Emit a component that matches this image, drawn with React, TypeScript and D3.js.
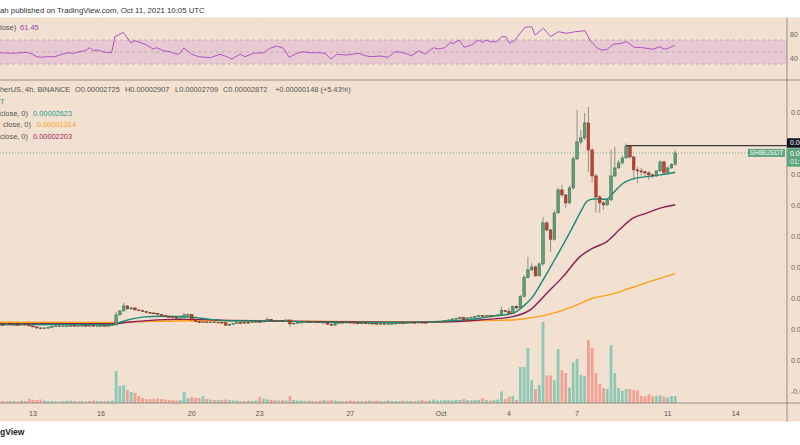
import React from "react";
import * as d3 from "d3";

const width = 800;
const height = 445;
const plotRight = 787;
const bandTop = 17.5;
const bandBottom = 421.5;
const rsiBottom = 80;
const axisY = 403;
const font = "Liberation Sans, Arial, sans-serif";

// SHIB/USDT 4h candles starting Sep 11 12:00 UTC, prices in millionths of USDT
const firstOpen = 6.62;
const closes = [
  6.59, 6.53, 6.66, 6.53, 6.59, 6.53, 6.66, 6.53, 6.4, 6.27, 6.14, 6.08, 6.14, 6.21, 6.34, 6.4, 6.34, 6.4, 6.4, 6.46,
  6.4, 6.4, 6.46, 6.4, 6.46, 6.4, 6.4, 6.46, 6.4, 6.46, 6.53,
  7.82, 8.33, 8.98, 8.59, 8.72, 8.46, 8.4, 8.27, 8.14, 8.07, 8.01, 7.88, 7.75, 7.62, 7.56, 7.49, 7.39, 7.43, 7.82, 7.88,
  7.17, 6.95, 6.82, 6.91, 6.85, 6.91, 6.82, 6.87, 6.82, 6.49, 6.62, 6.72, 6.82, 6.78, 6.85, 6.82, 6.91, 6.95, 6.91, 7.04,
  7.24, 7.11, 7.08, 7.13, 7.08, 7.17, 6.66, 6.75, 6.85, 6.87,
  6.95, 6.91, 6.95, 6.91, 6.87, 6.87, 6.62, 6.49, 6.72, 6.87, 6.82, 6.87, 6.85, 6.78, 6.75, 6.78, 6.72, 6.75, 6.68, 6.66,
  6.72, 6.62, 6.68, 6.72, 6.75, 6.78, 6.75, 6.82, 6.85, 6.82,
  6.87, 6.85, 6.82, 6.91, 6.95, 6.97, 7.0, 7.07, 7.17, 7.3, 7.37, 7.52, 7.17, 7.43, 7.52, 7.62, 7.73, 7.66, 7.75, 7.62,
  7.71, 7.82,
  8.37, 8.24, 8.04, 8.89, 8.72, 10.18, 12.63, 13.62, 14.01, 12.85, 14.4, 19.69, 18.78, 17.58, 20.98, 23.95, 23.3, 22.27,
  24.2, 27.95, 30.14, 30.66, 32.59, 29.11, 25.75, 23.04, 22.27, 22.01, 22.66, 25.75, 26.78, 27.43, 28.07, 29.62, 28.2,
  26.53, 26.4, 26.27, 26.14, 25.88, 25.75, 26.4, 27.56, 26.18, 26.78, 27.25, 28.72,
];
const highs = [
  6.68, 6.66, 6.72, 6.7, 6.64, 6.62, 6.72, 6.7, 6.58, 6.45, 6.3, 6.18, 6.2, 6.28, 6.4, 6.46, 6.44, 6.45, 6.47, 6.52,
  6.5, 6.46, 6.52, 6.5, 6.52, 6.5, 6.46, 6.51, 6.5, 6.52, 6.6,
  8.2, 8.45, 9.37, 9.05, 8.85, 8.75, 8.52, 8.45, 8.3, 8.2, 8.12, 8.05, 7.92, 7.8, 7.7, 7.62, 7.55, 7.52, 8.07, 7.98,
  7.92, 7.22, 7.0, 6.96, 6.94, 6.96, 6.95, 6.92, 6.9, 6.86, 6.68, 6.76, 6.86, 6.86, 6.9, 6.9, 6.95, 7.0, 6.98, 7.08,
  7.5, 7.28, 7.15, 7.16, 7.16, 7.2, 7.2, 6.8, 6.9, 6.92,
  7.0, 6.98, 7.0, 6.98, 6.95, 6.94, 6.92, 6.68, 6.78, 6.92, 6.92, 6.92, 6.92, 6.9, 6.82, 6.84, 6.82, 6.8, 6.78, 6.74,
  6.78, 6.76, 6.74, 6.78, 6.8, 6.84, 6.82, 6.88, 6.9, 6.9,
  6.92, 6.92, 6.9, 6.96, 7.0, 7.03, 7.06, 7.12, 7.24, 7.36, 7.45, 7.6, 7.56, 7.5, 7.58, 7.7, 7.82, 7.8, 7.82, 7.8,
  7.78, 7.9,
  8.89, 8.45, 8.72, 9.0, 9.1, 10.4, 12.98, 15.3, 14.5, 14.2, 14.6, 20.46, 19.9, 18.9, 21.3, 24.2, 24.59, 23.4, 24.5,
  28.3, 34.27, 31.69, 33.88, 34.66, 29.3, 26.0, 23.3, 22.5, 22.9, 29.11, 29.49, 27.8, 28.4, 29.95, 29.66, 28.3, 26.9,
  26.8, 26.5, 26.4, 26.1, 26.5, 27.8, 27.7, 26.95, 27.4, 29.07,
];
const lows = [
  6.52, 6.46, 6.48, 6.46, 6.5, 6.47, 6.48, 6.47, 6.34, 6.2, 5.98, 6.0, 6.04, 6.1, 6.18, 6.3, 6.28, 6.3, 6.35, 6.36,
  6.34, 6.34, 6.36, 6.35, 6.38, 6.35, 6.34, 6.36, 6.35, 6.38, 6.42,
  6.45, 7.76, 8.28, 8.5, 8.52, 8.4, 8.32, 8.2, 8.06, 8.0, 7.92, 7.8, 7.68, 7.55, 7.48, 7.42, 7.32, 7.34, 7.38, 7.78,
  7.1, 6.9, 6.76, 6.78, 6.8, 6.82, 6.78, 6.8, 6.76, 6.4, 6.45, 6.58, 6.68, 6.72, 6.76, 6.76, 6.8, 6.88, 6.86, 6.88,
  7.0, 7.05, 7.02, 7.05, 7.03, 7.04, 6.27, 6.6, 6.7, 6.8,
  6.84, 6.86, 6.88, 6.86, 6.82, 6.8, 6.55, 6.4, 6.44, 6.68, 6.76, 6.78, 6.8, 6.72, 6.7, 6.7, 6.66, 6.68, 6.62, 6.6,
  6.62, 6.56, 6.58, 6.64, 6.68, 6.7, 6.68, 6.72, 6.78, 6.76,
  6.78, 6.8, 6.76, 6.8, 6.86, 6.9, 6.92, 6.96, 7.02, 7.12, 7.24, 7.3, 7.08, 7.12, 7.38, 7.46, 7.56, 7.58, 7.6, 7.55,
  7.58, 7.64,
  7.75, 8.1, 7.95, 7.98, 8.6, 8.65, 10.1, 12.55, 13.5, 12.75, 12.8, 14.14, 18.6, 15.95, 17.4, 20.9, 23.0, 21.62, 22.1,
  24.0, 27.8, 29.8, 30.4, 26.27, 24.85, 20.98, 20.98, 21.37, 21.9, 22.5, 25.6, 26.7, 27.2, 27.95, 28.0, 25.24, 24.85,
  25.8, 25.7, 25.24, 25.5, 25.6, 26.3, 25.9, 26.0, 26.7, 27.09,
];
// volume, arbitrary units
const volumes = [
  2, 2, 1.5, 2, 2, 1.5, 2.5, 2, 4, 3, 3, 3.5, 2.5, 2, 2, 1.5, 1.5, 2, 2, 2.5, 2, 1.5, 2, 1.5, 2, 2.5, 2, 2, 2, 2, 2.5,
  32, 17, 18, 13, 11, 10, 7, 5, 4, 4, 4, 4.5, 4, 3.5, 3, 3, 2.5, 3, 11, 5,
  6, 5, 5, 7, 4, 3.5, 3, 3, 3, 3.5, 3, 2.5, 2.5, 2, 2, 2.5, 2, 2.5, 6, 4.5, 3.5, 3, 3, 2.5, 3, 2.5, 7, 3, 2.5, 2.5,
  2, 2.5, 2, 2, 2.5, 3, 2.5, 3, 2.5, 2, 2, 2, 2.5, 2, 2, 2, 2, 2.5, 2, 2.5, 2, 2, 2.5, 2, 2, 2, 2.5, 2, 2, 2, 2.5, 3,
  2, 2.5, 3.5, 2.5,
  2.5, 3, 3, 2.5, 3, 3, 4, 3, 2.5, 3, 3, 5, 3, 2.5, 3, 3.5,
  11.6, 4, 6, 7, 3, 36, 36, 55, 22.6, 14, 18, 81, 27.6, 27.6, 22.6, 54, 33, 30, 15.6, 40.6, 44, 28, 27, 63, 55, 30, 19,
  15, 14, 58, 30, 15, 12, 14, 14, 13, 12.5, 7, 6.5, 8.5, 6.5, 7, 7.7, 6.5, 5.5, 7, 7,
];

// moving averages: [candle index, value]
const maFast = [
  [0, 6.59], [30, 6.55], [32, 6.85], [34.7, 7.24], [38.6, 7.56], [42.6, 7.65], [47.9, 7.62], [51.9, 7.49], [55.9, 7.24],
  [61.1, 7.07], [69.1, 7.04], [77, 6.98], [87.6, 6.88], [106.1, 6.85], [116.7, 6.98], [124.7, 7.24], [127.3, 7.39],
  [131.5, 7.69], [136.1, 8.04], [138.7, 8.89], [141.3, 10.18], [144, 12.33], [146.6, 14.53], [149.3, 16.85],
  [151.9, 19.21], [153.8, 20.98], [155.6, 22.44], [157.2, 22.78], [160.9, 22.75], [162.5, 23.52], [165.2, 24.81],
  [167.8, 25.37], [171.4, 25.66], [175, 25.88], [179, 26.23],
];
const maMid = [
  [0, 6.7], [30, 6.68], [34.7, 6.91], [40, 7.11], [46.6, 7.24], [51.9, 7.24], [61.1, 7.11], [77, 7.0], [106.1, 6.88],
  [116.7, 6.91], [127.3, 7.17], [136, 7.6], [140.6, 8.46], [145, 10.62], [149.3, 12.76], [153.8, 15.34], [157.2, 16.43],
  [160.9, 17.28], [164.4, 18.9], [167.8, 20.3], [171.4, 20.94], [175, 21.59], [179, 22.03],
];
const maSlow = [
  [0, 6.88], [30, 6.85], [40, 6.98], [50.6, 7.07], [79.7, 7.0], [106.1, 6.91], [122, 7.0], [127.3, 7.08], [136, 7.17],
  [140.6, 7.43], [145, 7.82], [151.9, 8.89], [157.2, 9.97], [162.5, 10.53], [167, 11.26], [171.4, 11.98], [179, 13.14],
];
const rsi = [
  [0, 48.8], [4, 47.8], [7.3, 49.5], [8.7, 46.7], [10, 42.2], [11.3, 41.2], [12.6, 42.2], [14.8, 42.2], [17, 46.7],
  [18.3, 48.8], [19.7, 47.8], [21.4, 50.5], [22.8, 52.2], [24, 57.2], [25, 52.2], [26.3, 53.3], [27.6, 50.5],
  [28.5, 49.5], [29.8, 48.8], [30.7, 75.5], [32.9, 82.8], [34.9, 65.5], [36, 68.8], [37.3, 66.2], [39.1, 61.7],
  [40.8, 55], [41.7, 57.2], [43.5, 52.2], [45.3, 50.5], [47, 46.2], [47.9, 47.8], [48.8, 56.2], [49.7, 53.3],
  [51, 46.2], [52.8, 42.2], [55.9, 40.5], [58.5, 46.2], [60.3, 42.2], [61.6, 38.3], [63.8, 46.2], [65.1, 42.2],
  [67.3, 47.8], [70, 48.8], [71.7, 56.2], [73.5, 60], [75.3, 56.2], [76.8, 41.2], [78.8, 47.8], [80.5, 50.5],
  [82.3, 48.8], [84.1, 48.8], [86.3, 47.8], [87.9, 38.3], [89.4, 46.2], [92, 45], [95.1, 47.8], [97.3, 43.3],
  [98.6, 42.2], [100.8, 43.3], [103, 41.2], [104.8, 50.5], [106.1, 50], [107.5, 47.8], [109.2, 43.8], [111, 51.7],
  [112.8, 46.7], [115, 57.2], [116.3, 55], [118, 57.2], [119.4, 65.5], [120.3, 64.5], [121.8, 70], [123.1, 57.8],
  [125.1, 61.7], [126.9, 70], [128, 66.2], [128.9, 70], [130.1, 67.2], [131.7, 67.2], [133.1, 75.5], [134.2, 75.5],
  [135.1, 64.5], [136.6, 70], [139.2, 91.2], [141, 92.2], [141.9, 78.3], [144.1, 89.5], [146, 75.5], [148, 83.8],
  [150.3, 81.2], [152.5, 83.8], [155.1, 85.5], [156.4, 70], [158.2, 57.2], [159.5, 53.3], [161, 54.5], [162.6, 62.8],
  [164.8, 64.5], [166.1, 67.2], [168.3, 57.2], [169.7, 57.8], [173.2, 54.5], [174.9, 58.8], [176.1, 54.5],
  [177.6, 57.2], [178.9, 61.45],
];

const dateTicks = ["2021-09-13", "2021-09-16", "2021-09-20", "2021-09-23", "2021-09-27", "2021-10-01", "2021-10-04", "2021-10-07", "2021-10-11", "2021-10-14"];
const dateLabels = ["13", "16", "20", "23", "27", "Oct", "4", "7", "11", "14"];
const priceTicks = [34, 30, 26, 22, 18, 14, 10, 6, 2, -2];
const rsiTicks = [80, 40];
const rayLevel = 29.66;
const rayFrom = 166;

const green = "#5c9f78";
const greenEdge = "#2e6a49";
const red = "#c4432f";
const redEdge = "#7a281c";

const fmt = (v: number) => (v / 1e6).toFixed(8);

export default function App() {
  const start = Date.UTC(2021, 8, 11, 12);
  const step = 4 * 3600 * 1000;
  const timeAt = (i: number) => new Date(start + i * step);

  const x = d3
    .scaleUtc()
    .domain([new Date(Date.UTC(2021, 8, 13)), new Date(Date.UTC(2021, 9, 14))])
    .range([33, 735.7]);
  const y = d3.scaleLinear().domain([-2, 34]).range([391, 112]);
  const yRsi = d3.scaleLinear().domain([0, 100]).range([82, 22]);
  const yVol = d3.scaleLinear().domain([0, 100]).range([axisY, axisY - 100]);

  const candles = closes.map((c, i) => {
    const o = i ? closes[i - 1] : firstOpen;
    return { o, c, h: highs[i], l: lows[i], v: volumes[i], up: c >= o, x: x(timeAt(i)) };
  });

  const maPath = d3
    .line<number[]>()
    .x((d) => x(timeAt(d[0])))
    .y((d) => y(d[1]))
    .curve(d3.curveMonotoneX);
  const rsiPath = d3
    .line<number[]>()
    .x((d) => x(timeAt(d[0])))
    .y((d) => yRsi(d[1]));

  const last = candles[candles.length - 1];
  const yLast = y(last.c);
  const greenTop = yLast - 4.7;
  const bw = 2.6;

  return (
    <div style={{ position: "absolute", left: 0, top: 0 }}>
      <svg width={width} height={height} style={{ display: "block", background: "#fff" }} fontFamily={font}>
        <defs>
          <clipPath id="main">
            <rect x={0} y={rsiBottom} width={plotRight} height={axisY - rsiBottom} />
          </clipPath>
          <clipPath id="rsi">
            <rect x={0} y={bandTop} width={plotRight} height={rsiBottom - bandTop} />
          </clipPath>
        </defs>

        <text x={0} y={12.5} fontSize={7.8} fill="#333">
          ah published on TradingView.com, Oct 11, 2021 10:05 UTC
        </text>

        <rect x={0} y={bandTop} width={width} height={bandBottom - bandTop} fill="#f2e0d0" />

        {/* grid */}
        {dateTicks.map((d) => (
          <line key={d} x1={x(new Date(d))} x2={x(new Date(d))} y1={bandTop} y2={axisY} stroke="#ebdfd8" strokeWidth={1} />
        ))}
        {priceTicks.map((p) => (
          <line key={p} x1={0} x2={plotRight} y1={y(p)} y2={y(p)} stroke="#ebdfd8" strokeWidth={1} />
        ))}

        {/* RSI pane */}
        <g clipPath="url(#rsi)">
          <rect x={0} y={yRsi(70)} width={plotRight} height={yRsi(30) - yRsi(70)} fill="#e8c9d2" />
          {[70, 50, 30].map((v) => (
            <line key={v} x1={0} x2={plotRight} y1={yRsi(v)} y2={yRsi(v)} stroke="#b3a3a6" strokeDasharray="3,3" strokeWidth={0.8} />
          ))}
          <path d={rsiPath(rsi) || ""} fill="none" stroke="#b052c2" strokeWidth={1} />
        </g>
        <text x={0} y={30} fontSize={7.5} fill="#555">
          lose)
        </text>
        <text x={20} y={30} fontSize={7.5} fill="#a63fb8">
          61.45
        </text>
        {rsiTicks.map((v) => (
          <text key={v} x={790} y={yRsi(v) + 2.5} fontSize={7} fill="#666">
            {v}
          </text>
        ))}

        {/* volume */}
        <g clipPath="url(#main)">
          {candles.map((d, i) => (
            <rect
              key={i}
              x={d.x - 1.4}
              y={yVol(d.v)}
              width={2.8}
              height={axisY - yVol(d.v)}
              fill={d.up ? "#8ec8b6" : "#f1a193"}
            />
          ))}
        </g>

        {/* price line */}
        <line x1={0} x2={plotRight} y1={yLast} y2={yLast} stroke="#5c9f78" strokeDasharray="1,2" strokeWidth={0.8} />

        <g clipPath="url(#main)">
          <path d={maPath(maSlow) || ""} fill="none" stroke="#ff9f1a" strokeWidth={1.4} />
          <path d={maPath(maMid) || ""} fill="none" stroke="#8c1d56" strokeWidth={1.4} />
          <path d={maPath(maFast) || ""} fill="none" stroke="#17897a" strokeWidth={1.4} />

          {candles.map((d, i) => (
            <g key={i}>
              <line x1={d.x} x2={d.x} y1={y(d.h)} y2={y(d.l)} stroke="#7d7b78" strokeWidth={0.8} />
              <rect
                x={d.x - bw / 2}
                y={y(Math.max(d.o, d.c))}
                width={bw}
                height={Math.max(0.8, Math.abs(y(d.o) - y(d.c)))}
                fill={d.up ? green : red}
                stroke={d.up ? greenEdge : redEdge}
                strokeWidth={0.5}
              />
            </g>
          ))}

          <line x1={x(timeAt(rayFrom))} x2={plotRight} y1={y(rayLevel)} y2={y(rayLevel)} stroke="#3a3a3a" strokeWidth={1.2} />
        </g>

        {/* legend */}
        <g fontSize={7.4}>
          <text x={0} y={92} fill="#555">herUS, 4h, BINANCE</text>
          <text x={75} y={92} fill="#555">O{fmt(last.o)}</text>
          <text x={125} y={92} fill="#555">H{fmt(last.h)}</text>
          <text x={175} y={92} fill="#555">L{fmt(last.l)}</text>
          <text x={223} y={92} fill="#555">C{fmt(last.c)}</text>
          <text x={275} y={92} fill="#555">+0.00000148 (+5.43%)</text>
          <text x={0} y={103.5} fill="#2a9d8f">T</text>
          <text x={0} y={115.5} fill="#555">close, 0)</text>
          <text x={33} y={115.5} fill="#2a9d8f">{fmt(26.23)}</text>
          <text x={3} y={127} fill="#555">close, 0)</text>
          <text x={37} y={127} fill="#f7a325">{fmt(13.14)}</text>
          <text x={0} y={138.5} fill="#555">close, 0)</text>
          <text x={33} y={138.5} fill="#9c2760">{fmt(22.03)}</text>
        </g>

        {/* axes */}
        <line x1={plotRight} x2={plotRight} y1={bandTop} y2={bandBottom} stroke="#958d88" strokeWidth={1} />
        <line x1={0} x2={width} y1={rsiBottom} y2={rsiBottom} stroke="#958d88" strokeWidth={1} />
        <line x1={0} x2={width} y1={axisY} y2={axisY} stroke="#958d88" strokeWidth={1} />

        {priceTicks.map((p) => (
          <text key={p} x={791} y={y(p) + 2.5} fontSize={7} fill="#666">
            {fmt(p)}
          </text>
        ))}
        {dateTicks.map((d, i) => (
          <text key={d} x={x(new Date(d))} y={416} fontSize={7} fill="#555" textAnchor="middle">
            {dateLabels[i]}
          </text>
        ))}

        {/* price labels */}
        <rect x={plotRight} y={greenTop - 10} width={width - plotRight} height={9.5} fill="#131722" />
        <text x={790} y={greenTop - 2.8} fontSize={7} fill="#fff">{fmt(rayLevel)}</text>
        <rect x={plotRight} y={greenTop} width={width - plotRight} height={18.5} fill="#5ea67f" />
        <text x={790} y={greenTop + 7.5} fontSize={7} fill="#fff">{fmt(last.c)}</text>
        <text x={790} y={greenTop + 16} fontSize={7} fill="#e6f3ec">01:54:55</text>
        <rect x={748} y={yLast - 4} width={37} height={8} fill="#5ea67f" />
        <text x={766.5} y={yLast + 2.5} fontSize={6.6} fill="#fff" textAnchor="middle">SHIBUSDT</text>

        <text x={0} y={435} fontSize={8.5} fontWeight="bold" fill="#222">gView</text>
      </svg>
    </div>
  );
}
